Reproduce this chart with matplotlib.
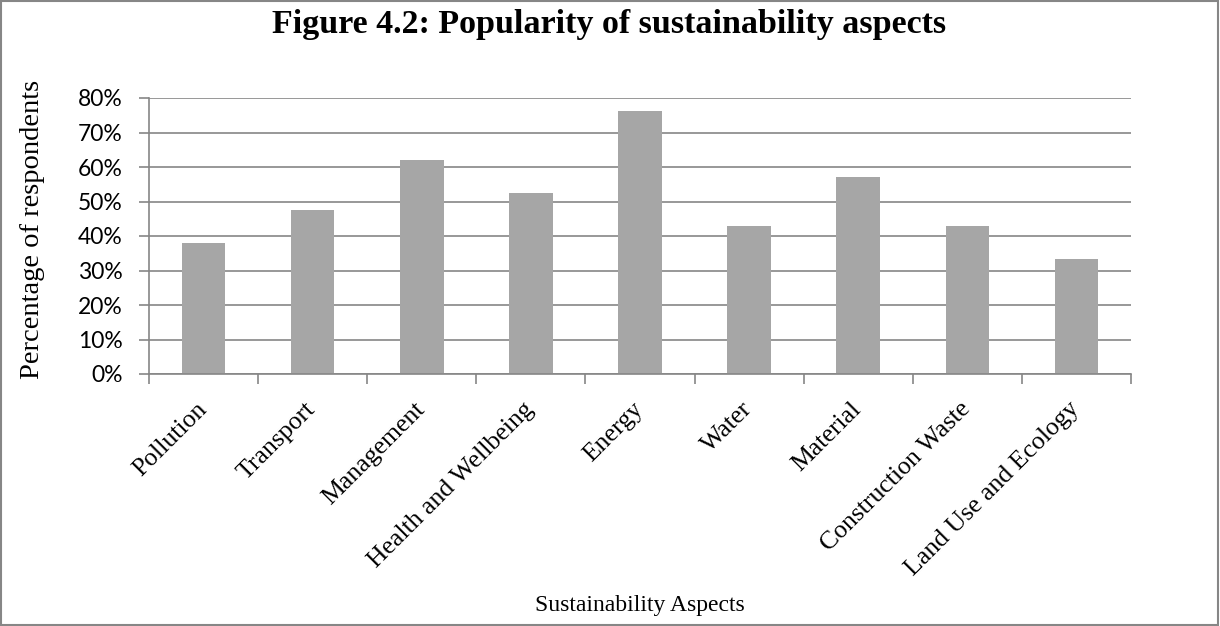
import numpy as np
import matplotlib.pyplot as plt
from matplotlib.ticker import PercentFormatter, FixedLocator
from matplotlib.patches import Rectangle
from matplotlib.transforms import ScaledTranslation, blended_transform_factory

# data
aspects = ["Pollution", "Transport", "Management", "Health and Wellbeing", "Energy",
           "Water", "Material", "Construction Waste", "Land Use and Ecology"]
share = [38.1, 47.6, 61.9, 52.4, 76.2, 42.9, 57.1, 42.9, 33.3]

grey = "#868686"
bar_col = "#A6A6A6"
serif = ["Liberation Serif", "DejaVu Serif"]

fig = plt.figure(figsize=(12.2, 6.26), dpi=100)
ax = fig.add_axes([149 / 1220, 1 - 374 / 626, (1131 - 149) / 1220, (374 - 98) / 626])

x = np.arange(len(aspects))
ax.bar(x, share, width=0.4, color=bar_col, zorder=2)

ax.set_xlim(-0.5, len(aspects) - 0.5)
ax.set_ylim(0, 80)
ax.set_yticks(np.arange(0, 81, 10))
ax.yaxis.set_major_formatter(PercentFormatter(decimals=0))
ax.grid(axis="y", color=grey, linewidth=1.2, zorder=0)

for s in ["top", "right"]:
    ax.spines[s].set_visible(False)
for s in ["left", "bottom"]:
    ax.spines[s].set_color(grey)
    ax.spines[s].set_linewidth(1.2)

# category labels: slanted, drawn by hand so they can be nudged
ax.set_xticks([])
ax.xaxis.set_minor_locator(FixedLocator(np.arange(-0.5, len(aspects), 1)))
ax.tick_params(axis="x", which="minor", length=7, color=grey, width=1.2)
trans = blended_transform_factory(ax.transData, ax.transAxes) + \
    ScaledTranslation(-8 / 100, -24 / 100, fig.dpi_scale_trans)
for xi, name in zip(x, aspects):
    ax.text(xi, 0, name, transform=trans, rotation=45, ha="right", va="top",
            rotation_mode="anchor", family=serif, fontsize=18.5)

ax.tick_params(axis="y", length=7, color=grey, width=1.2, pad=12, labelsize=16.5)
for lab in ax.get_yticklabels():
    lab.set_family(["Lato", "DejaVu Sans"])

fig.text(33 / 1220, 1 - 229 / 626, "Percentage of respondents", family=serif, fontsize=20.5,
         rotation=90, ha="center", va="center")
fig.text(640 / 1220, 1 - 605 / 626, "Sustainability Aspects", family=serif, fontsize=17,
         ha="center", va="center")
fig.text(609 / 1220, 1 - 25 / 626, "Figure 4.2: Popularity of sustainability aspects",
         family=serif, fontsize=24.5, fontweight="bold", ha="center", va="center")

fig.patches.append(Rectangle((0.001, 0.001), 0.997, 0.997, transform=fig.transFigure,
                             fill=False, edgecolor=grey, linewidth=1.5))

fig.savefig("out.png", dpi=100)
